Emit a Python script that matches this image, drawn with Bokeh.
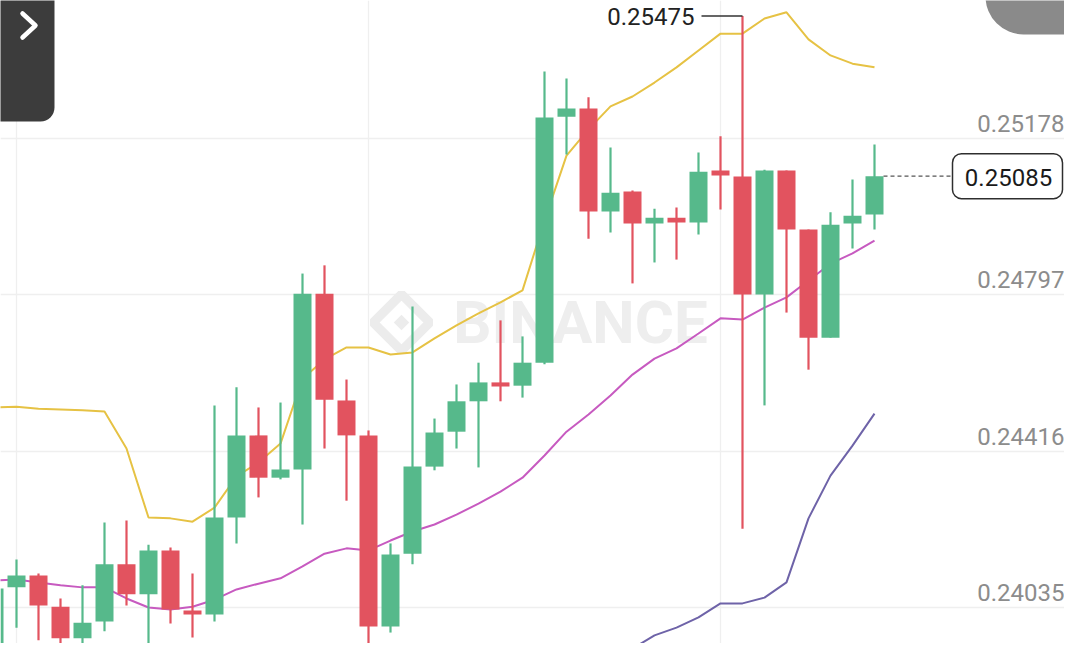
import math
from bokeh.plotting import figure
from bokeh.models import Range1d, FixedTicker, BoxAnnotation
from bokeh.core.properties import value
from bokeh.embed import file_html
from bokeh.resources import INLINE

# ---------------- data ----------------
idx = list(range(-1, 40))
opens = [0.23877, 0.24084, 0.24113, 0.24037, 0.23960, 0.24001, 0.24140, 0.24067, 0.24174, 0.24028,
         0.24018, 0.24254, 0.24454, 0.24351, 0.24371, 0.24799, 0.24539, 0.24454, 0.23989, 0.24166,
         0.24378, 0.24463, 0.24537, 0.24583, 0.24575, 0.24631, 0.25230, 0.25250, 0.24999, 0.25048,
         0.24970, 0.24984, 0.24972, 0.25099, 0.25084, 0.24797, 0.25099, 0.24955, 0.24692, 0.24970,
         0.24992]
highs = [0.24089, 0.24152, 0.24118, 0.24057, 0.24089, 0.24242, 0.24247, 0.24188, 0.24181, 0.24118,
         0.24527, 0.24571, 0.24522, 0.24534, 0.24848, 0.24868, 0.24590, 0.24466, 0.24191, 0.24768,
         0.24495, 0.24578, 0.24631, 0.24734, 0.24695, 0.25340, 0.25323, 0.25277, 0.25155, 0.25050,
         0.25006, 0.25009, 0.25143, 0.25182, 0.25475, 0.25101, 0.25099, 0.24955, 0.24997, 0.25077,
         0.25162]
lows = [0.23857, 0.23986, 0.23955, 0.23901, 0.23901, 0.23977, 0.24040, 0.23947, 0.23996, 0.23962,
        0.24001, 0.24191, 0.24303, 0.24347, 0.24237, 0.24422, 0.24295, 0.23894, 0.23974, 0.24140,
        0.24369, 0.24422, 0.24376, 0.24537, 0.24546, 0.24627, 0.25138, 0.24933, 0.24948, 0.24824,
        0.24875, 0.24882, 0.24943, 0.25004, 0.24227, 0.24527, 0.24753, 0.24614, 0.24692, 0.24909,
        0.24955]
closes = [0.24081, 0.24113, 0.24040, 0.23960, 0.23998, 0.24140, 0.24067, 0.24174, 0.24030, 0.24018,
          0.24254, 0.24454, 0.24351, 0.24371, 0.24799, 0.24541, 0.24454, 0.23989, 0.24164, 0.24378,
          0.24461, 0.24537, 0.24583, 0.24573, 0.24631, 0.25228, 0.25250, 0.24999, 0.25045, 0.24970,
          0.24984, 0.24972, 0.25096, 0.25087, 0.24797, 0.25099, 0.24955, 0.24692, 0.24967, 0.24989,
          0.25085]
boll_up = [0.24522, 0.24524, 0.24519, 0.24517, 0.24515, 0.24512, 0.24422, 0.24254, 0.24252, 0.24244,
           0.24278, 0.24354, 0.24388, 0.24434, 0.24592, 0.24639, 0.24668, 0.24668, 0.24651, 0.24656,
           0.24690, 0.24722, 0.24751, 0.24778, 0.24807, 0.24977, 0.25135, 0.25199, 0.25255, 0.25279,
           0.25313, 0.25350, 0.25391, 0.25432, 0.25432, 0.25469, 0.25484, 0.25418, 0.25379, 0.25359,
           0.25350]
boll_mb = [0.24101, 0.24103, 0.24096, 0.24089, 0.24084, 0.24084, 0.24057, 0.24035, 0.24030, 0.24037,
           0.24054, 0.24079, 0.24093, 0.24106, 0.24135, 0.24166, 0.24179, 0.24174, 0.24198, 0.24220,
           0.24237, 0.24261, 0.24288, 0.24317, 0.24351, 0.24405, 0.24463, 0.24505, 0.24551, 0.24602,
           0.24641, 0.24666, 0.24702, 0.24739, 0.24736, 0.24765, 0.24790, 0.24831, 0.24872, 0.24897,
           0.24928]
nan = float("nan")
boll_dn = [nan] * 27 + [0.23811, 0.23848, 0.23935, 0.23967, 0.23986, 0.24011, 0.24045, 0.24045,
                        0.24059, 0.24096, 0.24252, 0.24356, 0.24429, 0.24507]
y_ticks = [0.25178, 0.24797, 0.24416, 0.24035]
x_grid = [0, 16, 32, 48]

# ---------------- layout calibration (reference pixels) ----------------
W, H = 1064, 643
X0_PX, DX_PX = 16.0, 22.0          # centre of candle 0, spacing per candle
Y_HI_PX, Y_LO_PX = 137.5, 607.0    # pixel rows of the top / bottom grid lines
PPP = (y_ticks[0] - y_ticks[-1]) / (Y_LO_PX - Y_HI_PX)   # price per pixel
TXT_FIX = -9                        # baseline correction for svg text


def px2x(px):
    return (px - X0_PX) / DX_PX


def py2y(py):
    return y_ticks[0] - (py - Y_HI_PX) * PPP


GREEN = "#56b98b"
RED = "#e2535f"
FONT = value("Roboto")

p = figure(width=W, height=H, output_backend="svg", toolbar_location=None,
           x_range=Range1d(px2x(0), px2x(W)),
           y_range=Range1d(py2y(H), py2y(0)),
           x_axis_location=None, y_axis_location=None,
           min_border=0, min_border_left=0, min_border_right=0,
           min_border_top=0, min_border_bottom=0)
p.outline_line_color = None
p.background_fill_color = "white"
p.border_fill_color = "white"
p.ygrid.ticker = FixedTicker(ticks=y_ticks)
p.xgrid.ticker = FixedTicker(ticks=x_grid)
p.grid.grid_line_color = "#efefef"
p.grid.grid_line_width = 1.3

# watermark
p.text(x=[px2x(580)], y=[py2y(322)], text=["BINANCE"], text_font=FONT,
       text_font_style="bold", text_font_size="60px", text_color="#eeeeee",
       text_align="center", text_baseline="middle")
p.scatter(x=[px2x(401)], y=[py2y(322)], marker="square", size=40, angle=math.pi / 4,
          fill_color=None, line_color="#ececec", line_width=9)
p.scatter(x=[px2x(401)], y=[py2y(322)], marker="square", size=11, angle=math.pi / 4,
          fill_color="#ececec", line_color=None)

# Bollinger bands
p.line(idx, boll_up, line_color="#e6c244", line_width=2)
p.line(idx, boll_mb, line_color="#c75ac0", line_width=2)
p.line(idx, boll_dn, line_color="#6e63a8", line_width=2)

# candles
cols = [GREEN if c >= o else RED for o, c in zip(opens, closes)]
tops = [max(o, c) for o, c in zip(opens, closes)]
bots = [min(o, c) for o, c in zip(opens, closes)]
p.segment(x0=idx, y0=lows, x1=idx, y1=highs, line_color=cols, line_width=2.2)
p.vbar(x=idx, top=tops, bottom=bots, width=18 / DX_PX, fill_color=cols, line_color=None)

# price scale labels
p.text(x=[px2x(1064)] * len(y_ticks), y=y_ticks, text=[f"{t:.5f}" for t in y_ticks],
       text_font=FONT, text_font_size="24px", text_color="#8c8c8c",
       text_align="right", text_baseline="alphabetic", y_offset=-6 + TXT_FIX)

# highest price marker
imax = max(range(len(highs)), key=lambda i: highs[i])
hx, hy = idx[imax], highs[imax]
p.line([hx - 41 / DX_PX, hx], [hy, hy], line_color="#333333", line_width=1.3)
p.text(x=[hx], y=[hy], text=[f"{hy:.5f}"], x_offset=-48, y_offset=9 + TXT_FIX,
       text_font=FONT, text_font_size="24px", text_color="#222222",
       text_align="right", text_baseline="alphabetic")

# last price marker
lx, lc = idx[-1], closes[-1]
p.line([lx + 9 / DX_PX, lx + 77 / DX_PX], [lc, lc], line_color="#555555",
       line_width=1.2, line_dash="4 3")
box = BoxAnnotation(left=lx + 78 / DX_PX, right=lx + 188 / DX_PX,
                    top=lc + 22.5 * PPP, bottom=lc - 22.5 * PPP,
                    fill_color="white", fill_alpha=1.0, line_color="#2e2e2e",
                    line_alpha=1.0, line_width=1.5, border_radius=9)
p.add_layout(box)
p.text(x=[lx + 134 / DX_PX], y=[lc], text=[f"{lc:.5f}"], y_offset=10 + TXT_FIX,
       text_font=FONT, text_font_size="24px", text_color="#1a1a1a",
       text_align="center", text_baseline="alphabetic", level="overlay")

# app chrome: side panel button and corner tab
panel = BoxAnnotation(left=px2x(-40), right=px2x(54), top=py2y(-40), bottom=py2y(121),
                      fill_color="#3c3c3c", fill_alpha=1.0, line_color=None, border_radius=14)
p.add_layout(panel)
p.line([px2x(22), px2x(35), px2x(22)], [py2y(13), py2y(25), py2y(37)],
       line_color="white", line_width=4.5, line_cap="round", line_join="round", level="overlay")
corner = BoxAnnotation(left=px2x(985), right=px2x(1200), top=py2y(-80), bottom=py2y(34),
                       fill_color="#8a8a8a", fill_alpha=1.0, line_color=None, border_radius=38)
p.add_layout(corner)

open("out.html", "w").write(file_html(p, INLINE))
